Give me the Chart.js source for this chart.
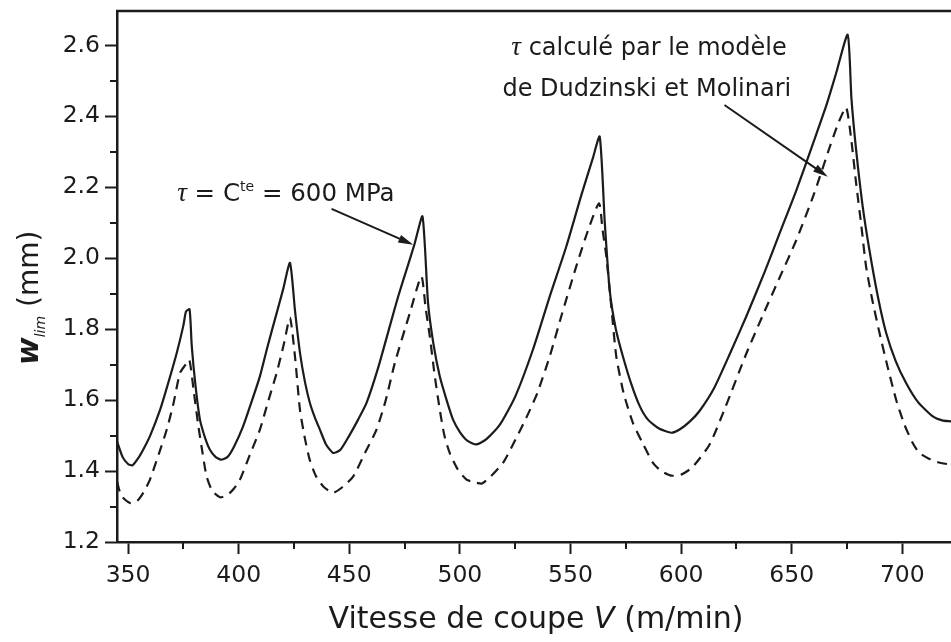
<!DOCTYPE html>
<html>
<head>
<meta charset="utf-8">
<script src="https://cdn.jsdelivr.net/npm/chart.js@4.4.0/dist/chart.umd.min.js"></script>
<style>
  html, body { margin: 0; padding: 0; background: #fff; }
  canvas { display: block; }
</style>
</head>
<body>
<canvas id="chart" width="951" height="642"></canvas>
<script>
// w_lim en fonction de la vitesse de coupe, valeurs relevées sur la figure
// tau = Cte = 600 MPa (trait plein)
const vConst = [345, 347.5, 350, 352, 355, 357, 360, 364.5, 368, 372, 375, 376.2, 377.8, 378.8, 380.5, 382.5, 385, 387, 389.5, 392,
  395, 398, 402, 405, 409.6, 413, 417.2, 420, 423.2, 425.5, 427.7, 430, 432.2, 434.5, 436.7, 439.5, 442.7, 446, 450, 454,
  457.8, 463, 468.3, 472, 475.9, 479.5, 483.1, 485.6, 488, 490.9, 494, 496.9, 500, 503.5, 507.5, 512, 518, 525, 533, 540.6,
  548.1, 555, 560, 563.2, 565.5, 567.7, 570.5, 573.7, 577.5, 581.3, 585, 590, 595.6, 599.3, 604, 608.4, 615, 622, 629.4, 638,
  644.5, 652, 660, 665.6, 670, 675.3, 677, 679.1, 682, 685.1, 689, 692.7, 697, 701.7, 707, 713.8, 718, 722];
const wConst = [1.484, 1.44, 1.42, 1.416, 1.44, 1.462, 1.50, 1.573, 1.645, 1.733, 1.81, 1.85, 1.856, 1.752, 1.64, 1.545, 1.49, 1.46, 1.44, 1.432,
  1.44, 1.47, 1.526, 1.58, 1.667, 1.75, 1.846, 1.91, 1.987, 1.85, 1.734, 1.65, 1.592, 1.55, 1.517, 1.475, 1.451, 1.46, 1.50, 1.545,
  1.592, 1.69, 1.808, 1.89, 1.968, 2.04, 2.118, 1.874, 1.76, 1.667, 1.60, 1.545, 1.51, 1.485, 1.475, 1.49, 1.53, 1.61, 1.742, 1.892,
  2.033, 2.18, 2.28, 2.343, 2.1, 1.911, 1.80, 1.723, 1.645, 1.583, 1.545, 1.52, 1.508, 1.517, 1.54, 1.57, 1.635, 1.73, 1.835, 1.965,
  2.07, 2.19, 2.33, 2.43, 2.52, 2.63, 2.45, 2.306, 2.15, 2.024, 1.89, 1.789, 1.71, 1.648, 1.595, 1.554, 1.543, 1.54];

// tau calculé par le modèle de Dudzinski et Molinari (tirets)
const vModel = [345, 347, 350.9, 354, 357, 359.9, 364, 367.5, 370.5, 373.5, 376, 377.7, 379.8, 381.8, 383.7, 385.5, 388, 391.6, 395, 397.8,
  400.6, 405, 409.6, 413.5, 417.2, 420.5, 423.2, 425.5, 427.7, 430, 432.2, 435, 438.5, 442.7, 447, 451.8, 457, 462.3, 466.5, 470.6,
  477.4, 482.6, 484.5, 486.4, 488.6, 490.9, 493, 495.4, 499, 503, 507.5, 510, 514, 519.5, 524, 530, 535, 540.6, 546, 552.6,
  558, 562.9, 564.5, 566.2, 568.5, 570.7, 574, 578.2, 582.5, 587.3, 591, 595.6, 600, 605, 612.9, 620, 629.4, 637, 644.5, 652,
  660, 667, 671, 674.6, 677, 679.1, 681.5, 683.6, 686.5, 689.7, 693.5, 697.2, 701, 704.7, 707.7, 712, 716, 722];
const wModel = [1.37, 1.33, 1.31, 1.315, 1.34, 1.376, 1.45, 1.517, 1.59, 1.677, 1.70, 1.714, 1.62, 1.526, 1.45, 1.385, 1.345, 1.326, 1.333, 1.35,
  1.376, 1.445, 1.517, 1.60, 1.677, 1.76, 1.832, 1.72, 1.573, 1.49, 1.43, 1.385, 1.355, 1.339, 1.355, 1.385, 1.45, 1.517, 1.60, 1.705,
  1.846, 1.949, 1.86, 1.78, 1.67, 1.573, 1.50, 1.451, 1.405, 1.376, 1.367, 1.365, 1.385, 1.423, 1.475, 1.55, 1.62, 1.723, 1.84, 1.977,
  2.08, 2.155, 2.08, 2.005, 1.86, 1.723, 1.62, 1.536, 1.48, 1.423, 1.40, 1.387, 1.39, 1.41, 1.475, 1.58, 1.73, 1.84, 1.945, 2.05,
  2.18, 2.31, 2.38, 2.425, 2.33, 2.212, 2.09, 1.977, 1.88, 1.789, 1.69, 1.601, 1.53, 1.479, 1.451, 1.435, 1.425, 1.418];

const xTickLabels = ['350', '400', '450', '500', '550', '600', '650', '700'];
const yTickLabels = ['1.2', '1.4', '1.6', '1.8', '2.0', '2.2', '2.4', '2.6'];

const INK = '#1b1b1b';
const FONT = '"DejaVu Sans", "Liberation Sans", Arial, sans-serif';
const SERIF = '"Liberation Serif", "DejaVu Serif", serif';

Chart.defaults.font.family = FONT;
Chart.defaults.color = INK;

const toPoints = (xs, ys) => xs.map((x, i) => ({ x: x, y: ys[i] }));

// draws a run of text pieces with different fonts, left to right
function drawRuns(ctx, runs, x, y, align) {
    let total = 0;
    runs.forEach(r => { ctx.font = r.font; total += ctx.measureText(r.t).width; });
    let cx = align === 'center' ? x - total / 2 : x;
    runs.forEach(r => {
        ctx.font = r.font;
        ctx.fillText(r.t, cx, y + (r.dy || 0));
        cx += ctx.measureText(r.t).width;
    });
}

function drawArrow(ctx, x1, y1, x2, y2) {
    const a = Math.atan2(y2 - y1, x2 - x1);
    const len = 15, half = 4;
    ctx.beginPath();
    ctx.moveTo(x1, y1);
    ctx.lineTo(x2 - Math.cos(a) * len * 0.8, y2 - Math.sin(a) * len * 0.8);
    ctx.stroke();
    ctx.beginPath();
    ctx.moveTo(x2, y2);
    ctx.lineTo(x2 - Math.cos(a) * len - Math.sin(a) * half, y2 - Math.sin(a) * len + Math.cos(a) * half);
    ctx.lineTo(x2 - Math.cos(a) * len + Math.sin(a) * half, y2 - Math.sin(a) * len - Math.cos(a) * half);
    ctx.closePath();
    ctx.fill();
}

const frameAndNotes = {
    id: 'frameAndNotes',
    afterDraw(chart) {
        const { ctx, chartArea: a, scales: { x, y } } = chart;
        ctx.save();
        ctx.strokeStyle = INK;
        ctx.fillStyle = INK;

        // top frame line
        ctx.lineWidth = 2.5;
        ctx.beginPath();
        ctx.moveTo(a.left - 1, a.top);
        ctx.lineTo(a.right, a.top);
        ctx.stroke();

        // short minor ticks
        ctx.lineWidth = 2;
        ctx.beginPath();
        x.ticks.forEach(t => {
            if (xTickLabels.includes(String(t.value))) return;
            const px = Math.round(x.getPixelForValue(t.value));
            ctx.moveTo(px, a.bottom);
            ctx.lineTo(px, a.bottom + 7);
        });
        y.ticks.forEach(t => {
            if (yTickLabels.includes(t.value.toFixed(1))) return;
            const py = Math.round(y.getPixelForValue(t.value));
            ctx.moveTo(a.left, py);
            ctx.lineTo(a.left - 7, py);
        });
        ctx.stroke();

        // arrows
        ctx.lineWidth = 2;
        drawArrow(ctx, x.getPixelForValue(442), y.getPixelForValue(2.139),
            x.getPixelForValue(478.9), y.getPixelForValue(2.038));
        drawArrow(ctx, x.getPixelForValue(619.6), y.getPixelForValue(2.432),
            x.getPixelForValue(666.3), y.getPixelForValue(2.230));

        // annotation texts
        ctx.textBaseline = 'alphabetic';
        ctx.textAlign = 'left';
        drawRuns(ctx, [
            { t: 'τ', font: 'italic 27px ' + SERIF },
            { t: ' = C', font: '24.5px ' + FONT },
            { t: 'te', font: '14px ' + FONT, dy: -10 },
            { t: ' = 600 MPa', font: '24.5px ' + FONT }
        ], x.getPixelForValue(372.2), y.getPixelForValue(2.16), 'left');
        drawRuns(ctx, [
            { t: 'τ', font: 'italic 27px ' + SERIF },
            { t: ' calculé par le modèle', font: '24px ' + FONT }
        ], x.getPixelForValue(585.5), y.getPixelForValue(2.573), 'center');
        drawRuns(ctx, [
            { t: 'de Dudzinski et Molinari', font: '24px ' + FONT }
        ], x.getPixelForValue(584.5), y.getPixelForValue(2.456), 'center');

        // axis titles
        drawRuns(ctx, [
            { t: 'Vitesse de coupe ', font: '30px ' + FONT },
            { t: 'V', font: 'italic 30px ' + FONT },
            { t: ' (m/min)', font: '30px ' + FONT }
        ], (a.left + a.right) / 2 + 2, 628, 'center');

        ctx.translate(38, 365);
        ctx.rotate(-Math.PI / 2);
        drawRuns(ctx, [
            { t: 'w', font: 'bold italic 30px ' + FONT },
            { t: 'lim', font: 'italic 14px ' + FONT, dy: 7 },
            { t: ' (mm)', font: '28px ' + FONT }
        ], 0, 0, 'left');
        ctx.restore();
    }
};

new Chart(document.getElementById('chart'), {
    type: 'line',
    data: {
        datasets: [
            {
                label: 'τ = Cte = 600 MPa',
                data: toPoints(vConst, wConst),
                borderColor: INK,
                borderWidth: 2.2,
                pointRadius: 0,
                tension: 0.2,
                fill: false
            },
            {
                label: 'τ calculé par le modèle de Dudzinski et Molinari',
                data: toPoints(vModel, wModel),
                borderColor: INK,
                borderWidth: 2.2,
                borderDash: [10, 7],
                pointRadius: 0,
                tension: 0.2,
                fill: false
            }
        ]
    },
    options: {
        responsive: false,
        animation: false,
        layout: { padding: { top: 11, right: 0, left: 0, bottom: 0 } },
        plugins: {
            legend: { display: false },
            tooltip: { enabled: false }
        },
        scales: {
            x: {
                type: 'linear',
                min: 345,
                max: 722,
                afterFit: s => { s.height = 100; s.paddingLeft = 0; s.paddingRight = 0; },
                ticks: {
                    stepSize: 25,
                    includeBounds: false,
                    autoSkip: false,
                    maxRotation: 0,
                    padding: 8,
                    color: INK,
                    font: { size: 23.5 },
                    callback: v => xTickLabels.includes(String(v)) ? String(v) : ''
                },
                grid: {
                    drawOnChartArea: false,
                    tickLength: 12,
                    tickWidth: 2,
                    tickColor: c => xTickLabels.includes(String(c.tick.value)) ? INK : 'rgba(0,0,0,0)'
                },
                border: { display: true, color: INK, width: 2.5 }
            },
            y: {
                type: 'linear',
                min: 1.2,
                max: 2.697,
                afterFit: s => { s.width = 117; s.paddingTop = 0; s.paddingBottom = 0; },
                ticks: {
                    stepSize: 0.1,
                    includeBounds: false,
                    autoSkip: false,
                    padding: 5,
                    color: INK,
                    font: { size: 23.5 },
                    callback: v => yTickLabels.includes(v.toFixed(1)) ? v.toFixed(1) : ''
                },
                grid: {
                    drawOnChartArea: false,
                    tickLength: 12,
                    tickWidth: 2,
                    tickColor: c => yTickLabels.includes(c.tick.value.toFixed(1)) ? INK : 'rgba(0,0,0,0)'
                },
                border: { display: true, color: INK, width: 2.5 }
            }
        }
    },
    plugins: [frameAndNotes]
});
</script>
</body>
</html>
